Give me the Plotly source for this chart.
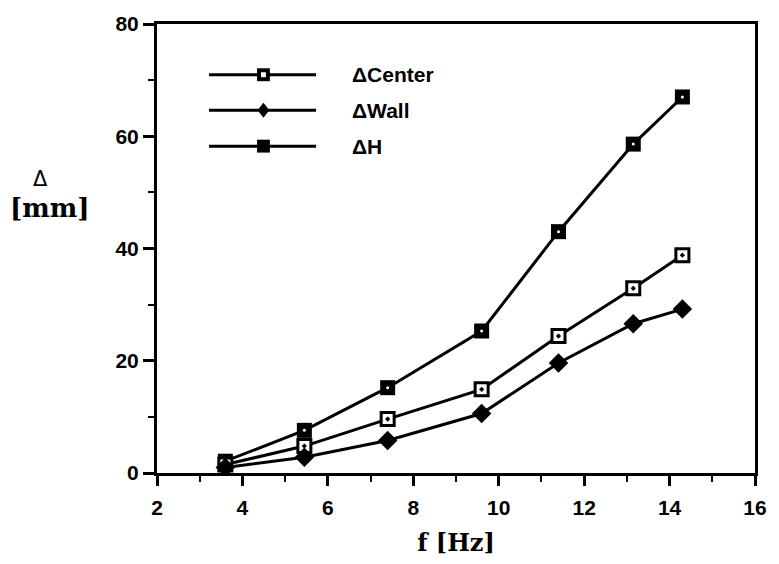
import plotly.graph_objects as go

f_hz = [3.6, 5.45, 7.4, 9.6, 11.4, 13.15, 14.3]
d_center = [1.5, 4.8, 9.6, 14.9, 24.4, 32.9, 38.8]
d_wall = [1.0, 2.8, 5.8, 10.6, 19.6, 26.6, 29.2]
d_h = [2.1, 7.6, 15.2, 25.3, 43.0, 58.6, 67.0]
legend_names = ["\u0394Center", "\u0394Wall", "\u0394H"]

x_ticks = [2, 4, 6, 8, 10, 12, 14, 16]
y_ticks = [0, 20, 40, 60, 80]

fig = go.Figure()
LW = 3
fig.add_trace(go.Scatter(x=f_hz, y=d_h, mode="lines+markers", name=legend_names[2],
                         line=dict(color="black", width=LW),
                         marker=dict(symbol="square", size=15, color="black")))
fig.add_trace(go.Scatter(x=f_hz, y=d_h, mode="markers", showlegend=False,
                         marker=dict(symbol="circle", size=3, color="white")))
fig.add_trace(go.Scatter(x=f_hz, y=d_center, mode="lines+markers", name=legend_names[0],
                         line=dict(color="black", width=LW),
                         marker=dict(symbol="square-dot", size=13, color="white",
                                     line=dict(color="black", width=3))))
fig.add_trace(go.Scatter(x=f_hz, y=d_wall, mode="lines+markers", name=legend_names[1],
                         line=dict(color="black", width=LW),
                         marker=dict(symbol="diamond", size=15, color="black")))

# custom legend (decoration in paper coordinates)
PW, PH = 606.0, 453.0
shapes = []
annotations = []
rows = [0.887, 0.808, 0.728]
x0, x1, xm = 0.087, 0.266, 0.178
for i, yy in enumerate(rows):
    shapes.append(dict(type="line", xref="paper", yref="paper", x0=x0, x1=x1, y0=yy, y1=yy,
                       line=dict(color="black", width=LW)))
    annotations.append(dict(xref="paper", yref="paper", x=0.322, y=yy, xanchor="left",
                            yanchor="middle", showarrow=False, text=legend_names[i],
                            font=dict(family="Liberation Sans", size=21, color="black",
                                      weight="bold")))
# legend symbols
dx = 6.5 / PW
dy = 6.5 / PH
shapes.append(dict(type="rect", xref="paper", yref="paper", x0=xm - dx, x1=xm + dx,
                   y0=rows[0] - dy, y1=rows[0] + dy, fillcolor="black", line=dict(width=0)))
shapes.append(dict(type="rect", xref="paper", yref="paper", x0=xm - 2.5 / PW, x1=xm + 2.5 / PW,
                   y0=rows[0] - 2.5 / PH, y1=rows[0] + 2.5 / PH, fillcolor="white", line=dict(width=0)))
dxd = 6 / PW
dyd = 7.5 / PH
shapes.append(dict(type="path", xref="paper", yref="paper",
                   path=f"M {xm - dxd} {rows[1]} L {xm} {rows[1] + dyd} L {xm + dxd} {rows[1]} L {xm} {rows[1] - dyd} Z",
                   fillcolor="black", line=dict(width=0)))
shapes.append(dict(type="rect", xref="paper", yref="paper", x0=xm - dx, x1=xm + dx,
                   y0=rows[2] - dy, y1=rows[2] + dy, fillcolor="black", line=dict(width=0)))

# y-axis title (two lines, horizontal)
annotations.append(dict(xref="paper", yref="paper", x=(39 - 157) / PW, y=(475 - 178) / PH,
                        xanchor="center", yanchor="middle", showarrow=False, text="\u0394",
                        font=dict(family="DejaVu Sans", size=21, color="black")))
annotations.append(dict(xref="paper", yref="paper", x=(49 - 157) / PW, y=(475 - 208) / PH,
                        xanchor="center", yanchor="middle", showarrow=False, text="[mm]",
                        font=dict(family="DejaVu Serif", size=26, color="black", weight="bold")))

fig.update_layout(
    width=779, height=564,
    margin=dict(l=157, r=16, t=22, b=89),
    paper_bgcolor="white", plot_bgcolor="white",
    showlegend=False,
    shapes=shapes, annotations=annotations,
    xaxis=dict(range=[2, 16], tickvals=x_ticks, ticktext=[str(v) for v in x_ticks],
               ticks="outside", ticklen=10, tickwidth=2.5, tickcolor="black",
               minor=dict(dtick=1, ticks="outside", ticklen=6, tickwidth=2, tickcolor="black"),
               showline=True, linewidth=3, linecolor="black", mirror=True,
               showgrid=False, zeroline=False, ticklabelstandoff=4,
               tickfont=dict(family="Liberation Sans", size=21, color="black", weight="bold"),
               title=dict(text="f [Hz]", standoff=16,
                          font=dict(family="DejaVu Serif", size=24, color="black", weight="bold"))),
    yaxis=dict(range=[0, 80], tickvals=y_ticks, ticktext=[str(v) for v in y_ticks],
               ticks="outside", ticklen=11, tickwidth=2.5, tickcolor="black",
               minor=dict(dtick=10, ticks="outside", ticklen=6, tickwidth=2, tickcolor="black"),
               showline=True, linewidth=3, linecolor="black", mirror=True,
               showgrid=False, zeroline=False,
               tickfont=dict(family="Liberation Sans", size=21, color="black", weight="bold")),
)

fig.write_html("out.html")
